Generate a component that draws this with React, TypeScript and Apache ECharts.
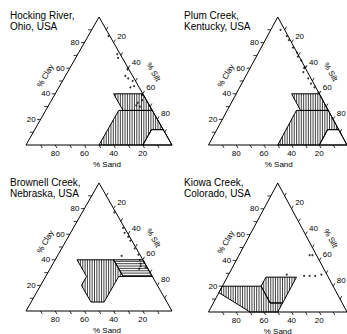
import React, { useEffect, useRef } from "react";
import * as echarts from "echarts";

type T3 = [number, number, number]; // [sand, silt, clay] in %

// ---- text ----
const TITLES = [
  "Hocking River,\nOhio, USA",
  "Plum Creek,\nKentucky, USA",
  "Brownell Creek,\nNebraska, USA",
  "Kiowa Creek,\nColorado, USA",
];
const TICK_VALUES = [10, 20, 30, 40, 50, 60, 70, 80, 90];
const TICK_LABELS = [20, 40, 60, 80];
const SAND_NAME = "% Sand";
const CLAY_NAME = "% Clay";
const SILT_NAME = "% Silt";

// ---- soil texture zones [sand, silt, clay] ----
const SILTY_CLAY_LOAM: T3[] = [[20, 40, 40], [0, 60, 40], [0, 73, 27], [20, 53, 27]];
const SILT_LOAM: T3[] = [[50, 50, 0], [23, 50, 27], [0, 73, 27], [0, 88, 12], [8, 80, 12], [20, 80, 0]];
const SILT: T3[] = [[20, 80, 0], [8, 80, 12], [0, 88, 12], [0, 100, 0]];
const LOAM_CLAY_LOAM: T3[] = [[45, 15, 40], [20, 40, 40], [20, 53, 27], [23, 50, 27], [43, 50, 7], [52, 41, 7], [52, 28, 20], [45, 28, 27]];
const LOAM: T3[] = [[45, 28, 27], [23, 50, 27], [43, 50, 7], [52, 41, 7], [52, 28, 20]];
const SANDY_LOAM: T3[] = [[80, 0, 20], [52, 28, 20], [52, 41, 7], [43, 50, 7], [50, 50, 0], [70, 30, 0], [85, 0, 15]];

// ---- samples [sand, silt, clay] ----
const HOCKING: T3[] = [
  [1, 14, 85], [2, 27, 71], [3, 29, 68], [0, 40, 60], [1, 40, 59], [5, 41, 54], [4, 44, 52],
  [2, 48, 50], [3, 51, 46], [6, 49, 45], [1, 60, 39], [3, 62, 35], [7, 60, 33], [9, 60, 31], [7, 63, 30],
];
const PLUM: T3[] = [
  [3, 7, 90], [1, 14, 85], [1, 17, 82], [1, 23, 76], [0, 28, 72], [1, 30, 69], [0, 34, 66],
  [0, 39, 61], [1, 39, 60], [3, 40, 57], [2, 46, 52], [2, 50, 48], [1, 54, 45], [0, 59, 41],
];
const BROWNELL: T3[] = [
  [1, 22, 77], [1, 34, 65], [2, 37, 61], [1, 41, 58], [1, 44, 55], [1, 50, 49], [13, 44, 43],
  [1, 55, 44], [2, 58, 40], [3, 60, 37], [0, 62, 38], [4, 61, 35], [6, 61, 33], [1, 65, 34],
];
const KIOWA: T3[] = [
  [29, 42, 29], [17, 55, 28], [13, 59, 28], [9, 63, 28], [4, 67, 29], [3, 53, 44], [5, 51, 44],
];

type Zone = { poly: T3[]; hatch: "v" | "h" | "none" };
const PANEL_DATA: { title: string; samples: T3[]; zones: Zone[] }[] = [
  { title: TITLES[0], samples: HOCKING, zones: [{ poly: SILTY_CLAY_LOAM, hatch: "v" }, { poly: SILT_LOAM, hatch: "v" }, { poly: SILT, hatch: "none" }] },
  { title: TITLES[1], samples: PLUM, zones: [{ poly: SILTY_CLAY_LOAM, hatch: "v" }, { poly: SILT_LOAM, hatch: "v" }, { poly: SILT, hatch: "none" }] },
  { title: TITLES[2], samples: BROWNELL, zones: [{ poly: LOAM_CLAY_LOAM, hatch: "v" }, { poly: SILTY_CLAY_LOAM, hatch: "h" }] },
  { title: TITLES[3], samples: KIOWA, zones: [{ poly: SANDY_LOAM, hatch: "v" }, { poly: LOAM, hatch: "v" }] },
];

// ---- layout ----
const LAYOUT = [
  { left: 26, top: 17, width: 146, height: 128, titleLeft: 10, titleTop: 9.5, sandDx: 8 },
  { left: 208.5, top: 17, width: 146, height: 128, titleLeft: 184, titleTop: 9.5, sandDx: 1 },
  { left: 26, top: 183, width: 146, height: 128, titleLeft: 10, titleTop: 176.5, sandDx: 8 },
  { left: 208.5, top: 183, width: 146, height: 129, titleLeft: 184, titleTop: 176.5, sandDx: 0 },
];

const FONT = "Liberation Sans, Arial, Helvetica, sans-serif";
const HATCH_STEP = 2.35;

const toXY = (t: T3): [number, number] => [t[1] + t[2] / 2, t[2]];

function hatch(pts: number[][], dir: "v" | "h") {
  const out: any[] = [];
  const a = dir === "v" ? 0 : 1;
  const b = 1 - a;
  let lo = Infinity, hi = -Infinity;
  pts.forEach((p) => { lo = Math.min(lo, p[a]); hi = Math.max(hi, p[a]); });
  for (let s = Math.ceil(lo / HATCH_STEP) * HATCH_STEP + 0.5; s < hi; s += HATCH_STEP) {
    const cuts: number[] = [];
    for (let i = 0; i < pts.length; i++) {
      const p = pts[i], q = pts[(i + 1) % pts.length];
      if ((p[a] <= s && q[a] > s) || (q[a] <= s && p[a] > s)) {
        const t = (s - p[a]) / (q[a] - p[a]);
        cuts.push(p[b] + t * (q[b] - p[b]));
      }
    }
    cuts.sort((m, n) => m - n);
    for (let k = 0; k + 1 < cuts.length; k += 2) {
      const shape = dir === "v"
        ? { x1: s, y1: cuts[k], x2: s, y2: cuts[k + 1] }
        : { x1: cuts[k], y1: s, x2: cuts[k + 1], y2: s };
      out.push({ type: "line", shape, style: { stroke: "#000", lineWidth: 0.75 }, silent: true });
    }
  }
  return out;
}

function buildOption() {
  const grid: any[] = [], xAxis: any[] = [], yAxis: any[] = [], series: any[] = [], title: any[] = [];
  PANEL_DATA.forEach((panel, i) => {
    const L = LAYOUT[i];
    grid.push({ left: L.left, top: L.top, width: L.width, height: L.height, containLabel: false });
    xAxis.push({ gridIndex: i, type: "value", min: 0, max: 100, show: false });
    yAxis.push({ gridIndex: i, type: "value", min: 0, max: 100, show: false });
    title.push({
      text: panel.title, left: L.titleLeft, top: L.titleTop, padding: 0,
      textStyle: { fontSize: 10, fontWeight: "normal", fontFamily: FONT, color: "#000", lineHeight: 11 },
    });

    // frame: triangle, ticks, tick labels, axis names
    series.push({
      type: "custom", xAxisIndex: i, yAxisIndex: i, silent: true, data: [[50, 50]],
      renderItem: (_p: any, api: any) => {
        const c = (t: T3) => api.coord(toXY(t));
        const ch: any[] = [];
        ch.push({ type: "polygon", shape: { points: [c([100, 0, 0]), c([0, 100, 0]), c([0, 0, 100])] }, style: { fill: "none", stroke: "#000", lineWidth: 1 } });
        const TL = 3.5;
        TICK_VALUES.forEach((v) => {
          const pb = c([v, 100 - v, 0]);
          ch.push({ type: "line", shape: { x1: pb[0], y1: pb[1], x2: pb[0] + TL * 0.5, y2: pb[1] + TL * 0.866 }, style: { stroke: "#000", lineWidth: 0.8 } });
          const pl = c([100 - v, 0, v]);
          ch.push({ type: "line", shape: { x1: pl[0], y1: pl[1], x2: pl[0] - TL, y2: pl[1] }, style: { stroke: "#000", lineWidth: 0.8 } });
          const pr = c([0, v, 100 - v]);
          ch.push({ type: "line", shape: { x1: pr[0], y1: pr[1], x2: pr[0] + TL * 0.5, y2: pr[1] - TL * 0.866 }, style: { stroke: "#000", lineWidth: 0.8 } });
        });
        const ts = { fontSize: 8, fontFamily: FONT, fill: "#000" };
        TICK_LABELS.forEach((v) => {
          const pb = c([v, 100 - v, 0]);
          ch.push({ type: "text", x: pb[0], y: pb[1] + 8, style: { ...ts, text: String(v), align: "center", verticalAlign: "middle" } });
          const pl = c([100 - v, 0, v]);
          ch.push({ type: "text", x: pl[0] - 5, y: pl[1], style: { ...ts, text: String(v), align: "right", verticalAlign: "middle" } });
          const pr = c([0, v, 100 - v]);
          ch.push({ type: "text", x: pr[0] + 8, y: pr[1] - 6, style: { ...ts, text: String(v), align: "center", verticalAlign: "middle" } });
        });
        const sb = c([50, 50, 0]);
        ch.push({ type: "text", x: sb[0] + L.sandDx, y: sb[1] + 19, style: { ...ts, text: SAND_NAME, align: "center", verticalAlign: "middle" } });
        const cl = c([46 - 0, 0, 54]);
        ch.push({ type: "text", x: cl[0] - 20, y: cl[1], rotation: Math.PI / 3, style: { ...ts, text: CLAY_NAME, align: "center", verticalAlign: "middle" } });
        const sr = c([0, 43, 57]);
        ch.push({ type: "text", x: sr[0] + 23, y: sr[1], rotation: -Math.PI / 3, style: { ...ts, text: SILT_NAME, align: "center", verticalAlign: "middle" } });
        return { type: "group", children: ch };
      },
    });

    // hatched texture zones
    series.push({
      type: "custom", xAxisIndex: i, yAxisIndex: i, silent: true,
      data: panel.zones.map((_z, k) => [k, 0]),
      renderItem: (params: any, api: any) => {
        const z = panel.zones[params.dataIndex];
        const pts = z.poly.map((t) => api.coord(toXY(t)));
        const ch: any[] = z.hatch === "none" ? [] : hatch(pts, z.hatch);
        ch.push({ type: "polygon", shape: { points: pts }, style: { fill: "none", stroke: "#000", lineWidth: 1 } });
        return { type: "group", children: ch };
      },
    });

    // samples
    series.push({
      type: "scatter", xAxisIndex: i, yAxisIndex: i, silent: true,
      data: panel.samples.map(toXY), symbol: "circle", symbolSize: 2,
      itemStyle: { color: "#000" },
    });
  });
  return { animation: false, backgroundColor: "#fff", title, grid, xAxis, yAxis, series };
}

export default function App() {
  const ref = useRef<HTMLDivElement>(null);
  useEffect(() => {
    if (!ref.current) return;
    const chart = echarts.init(ref.current, null, { renderer: "svg" });
    chart.setOption(buildOption() as any);
    return () => chart.dispose();
  }, []);
  return <div ref={ref} style={{ position: "absolute", left: 0, top: 0, width: 347, height: 334 }} />;
}
